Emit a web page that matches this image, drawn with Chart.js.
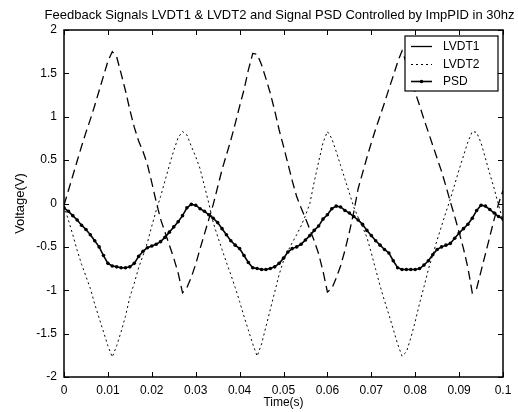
<!DOCTYPE html>
<html>
<head>
<meta charset="utf-8">
<title>Feedback Signals LVDT1 &amp; LVDT2 and Signal PSD</title>
<script src="https://cdn.jsdelivr.net/npm/chart.js@4.4.1/dist/chart.umd.min.js"></script>
<style>
  html, body { margin: 0; padding: 0; background: #fff; }
  #wrap { width: 518px; height: 412px; }
</style>
</head>
<body>
<div id="wrap"><canvas id="signalChart" width="518" height="412"></canvas></div>
<script>
// sample times (s), 1 ms apart
const timeSec = [
  0, 0.001, 0.002, 0.003, 0.004, 0.005, 0.006, 0.007, 0.008, 0.009,
  0.010, 0.011, 0.012, 0.013, 0.014, 0.015, 0.016, 0.017, 0.018, 0.019,
  0.020, 0.021, 0.022, 0.023, 0.024, 0.025, 0.026, 0.027, 0.028, 0.029,
  0.030, 0.031, 0.032, 0.033, 0.034, 0.035, 0.036, 0.037, 0.038, 0.039,
  0.040, 0.041, 0.042, 0.043, 0.044, 0.045, 0.046, 0.047, 0.048, 0.049,
  0.050, 0.051, 0.052, 0.053, 0.054, 0.055, 0.056, 0.057, 0.058, 0.059,
  0.060, 0.061, 0.062, 0.063, 0.064, 0.065, 0.066, 0.067, 0.068, 0.069,
  0.070, 0.071, 0.072, 0.073, 0.074, 0.075, 0.076, 0.077, 0.078, 0.079,
  0.080, 0.081, 0.082, 0.083, 0.084, 0.085, 0.086, 0.087, 0.088, 0.089,
  0.090, 0.091, 0.092, 0.093, 0.094, 0.095, 0.096, 0.097, 0.098, 0.099,
  0.100
];

// feedback voltages (V)
const lvdt1 = [
  -0.02, 0.15, 0.32, 0.49, 0.66, 0.82, 0.97, 1.13, 1.30, 1.47,
  1.64, 1.75, 1.69, 1.50, 1.30, 1.08, 0.88, 0.72, 0.60, 0.45,
  0.24, 0.02, -0.18, -0.33, -0.48, -0.63, -0.80, -1.03, -0.97, -0.85,
  -0.70, -0.52, -0.35, -0.18, -0.01, 0.19, 0.39, 0.56, 0.73, 0.92,
  1.12, 1.31, 1.54, 1.73, 1.72, 1.60, 1.44, 1.27, 1.07, 0.85,
  0.66, 0.46, 0.26, 0.08, -0.05, -0.17, -0.30, -0.43, -0.58, -0.78,
  -1.02, -0.98, -0.86, -0.72, -0.54, -0.33, -0.10, 0.17, 0.35, 0.53,
  0.70, 0.86, 1.01, 1.16, 1.32, 1.47, 1.63, 1.76, 1.62, 1.44,
  1.28, 1.13, 0.97, 0.82, 0.67, 0.52, 0.37, 0.20, 0.02, -0.15,
  -0.33, -0.52, -0.74, -1.03, -0.98, -0.78, -0.58, -0.38, -0.18, 0.00,
  0.15
];

const lvdt2 = [
  -0.03, -0.19, -0.36, -0.54, -0.70, -0.84, -0.98, -1.16, -1.32, -1.48,
  -1.64, -1.77, -1.64, -1.48, -1.30, -1.08, -0.92, -0.74, -0.60, -0.45,
  -0.26, -0.08, 0.08, 0.26, 0.44, 0.61, 0.76, 0.83, 0.79, 0.66,
  0.54, 0.40, 0.20, 0.00, -0.22, -0.38, -0.53, -0.68, -0.82, -0.97,
  -1.13, -1.30, -1.46, -1.62, -1.76, -1.62, -1.42, -1.22, -1.02, -0.82,
  -0.66, -0.55, -0.45, -0.36, -0.26, -0.14, 0.00, 0.25, 0.48, 0.70,
  0.83, 0.75, 0.60, 0.44, 0.28, 0.12, -0.04, -0.16, -0.27, -0.39,
  -0.57, -0.76, -0.95, -1.12, -1.28, -1.45, -1.62, -1.76, -1.71, -1.55,
  -1.36, -1.15, -0.96, -0.76, -0.59, -0.42, -0.26, -0.10, 0.05, 0.22,
  0.39, 0.55, 0.71, 0.83, 0.82, 0.70, 0.52, 0.34, 0.17, -0.02,
  -0.20
];

const psd = [
  -0.05, -0.09, -0.14, -0.19, -0.25, -0.30, -0.36, -0.43, -0.50, -0.60,
  -0.69, -0.72, -0.73, -0.74, -0.74, -0.73, -0.69, -0.61, -0.55, -0.51,
  -0.49, -0.47, -0.44, -0.39, -0.33, -0.27, -0.21, -0.14, -0.05, -0.01,
  -0.02, -0.06, -0.09, -0.13, -0.17, -0.22, -0.29, -0.36, -0.43, -0.48,
  -0.52, -0.60, -0.68, -0.74, -0.75, -0.76, -0.76, -0.75, -0.73, -0.69,
  -0.63, -0.56, -0.52, -0.50, -0.47, -0.42, -0.37, -0.31, -0.26, -0.18,
  -0.13, -0.06, -0.03, -0.04, -0.08, -0.11, -0.15, -0.19, -0.24, -0.31,
  -0.37, -0.43, -0.48, -0.53, -0.57, -0.66, -0.74, -0.76, -0.76, -0.76,
  -0.76, -0.75, -0.71, -0.66, -0.59, -0.53, -0.50, -0.48, -0.46, -0.40,
  -0.34, -0.29, -0.24, -0.17, -0.08, -0.02, -0.03, -0.07, -0.11, -0.15,
  -0.18
];

const xTickValues = [0, 0.01, 0.02, 0.03, 0.04, 0.05, 0.06, 0.07, 0.08, 0.09, 0.1];
const yTickValues = [-2, -1.5, -1, -0.5, 0, 0.5, 1, 1.5, 2];

const titleText = 'Feedback Signals LVDT1 & LVDT2 and Signal PSD Controlled by ImpPID in 30hz';
const fontFamily = "'Liberation Sans', Arial, Helvetica, sans-serif";

// title centred over the plot box
const plotTitle = {
  id: 'plotTitle',
  afterDraw(chart) {
    const { ctx, chartArea: a } = chart;
    ctx.save();
    ctx.font = '13px ' + fontFamily;
    ctx.fillStyle = '#000';
    ctx.textAlign = 'center';
    ctx.textBaseline = 'middle';
    ctx.fillText(titleText, (a.left + a.right) / 2 - 4, 15);
    ctx.restore();
  }
};

// box around the axes with inward tick marks on all four sides
const axesFrame = {
  id: 'axesFrame',
  afterDatasetsDraw(chart) {
    const { ctx, chartArea: a, scales } = chart;
    const len = 5;
    ctx.save();
    ctx.strokeStyle = '#000';
    ctx.lineWidth = 1;
    ctx.beginPath();
    scales.x.ticks.forEach(t => {
      const px = Math.round(scales.x.getPixelForValue(t.value)) + 0.5;
      ctx.moveTo(px, a.bottom); ctx.lineTo(px, a.bottom - len);
      ctx.moveTo(px, a.top); ctx.lineTo(px, a.top + len);
    });
    scales.y.ticks.forEach(t => {
      const py = Math.round(scales.y.getPixelForValue(t.value)) + 0.5;
      ctx.moveTo(a.left, py); ctx.lineTo(a.left + len, py);
      ctx.moveTo(a.right, py); ctx.lineTo(a.right - len, py);
    });
    ctx.stroke();
    ctx.lineWidth = 1.5;
    ctx.strokeRect(a.left, a.top, a.right - a.left, a.bottom - a.top);
    ctx.restore();
  }
};

// boxed legend in the upper right corner of the plot
const boxLegend = {
  id: 'boxLegend',
  afterDraw(chart) {
    const { ctx, chartArea: a } = chart;
    const w = 93, h = 55;
    const x = a.right - 5 - w, y = a.top + 6;
    ctx.save();
    ctx.fillStyle = '#fff';
    ctx.fillRect(x, y, w, h);
    ctx.strokeStyle = '#000';
    ctx.lineWidth = 1.2;
    ctx.strokeRect(x, y, w, h);
    ctx.font = '12px ' + fontFamily;
    ctx.textBaseline = 'middle';
    chart.data.datasets.forEach((ds, i) => {
      const rowY = Math.round(y + 10 + i * 17.5) + 0.5;
      ctx.beginPath();
      ctx.setLineDash(ds.legendDash || ds.borderDash || []);
      ctx.lineWidth = ds.borderWidth;
      ctx.strokeStyle = ds.borderColor;
      ctx.moveTo(x + 6, rowY);
      ctx.lineTo(x + 27, rowY);
      ctx.stroke();
      ctx.setLineDash([]);
      if (ds.pointRadius > 0) {
        ctx.beginPath();
        ctx.fillStyle = ds.pointBackgroundColor;
        ctx.arc(x + 16.5, rowY, ds.pointRadius, 0, Math.PI * 2);
        ctx.fill();
      }
      ctx.fillStyle = '#000';
      ctx.fillText(ds.label, x + 38, rowY);
    });
    ctx.restore();
  }
};

const tickFont = { family: fontFamily, size: 12 };

new Chart(document.getElementById('signalChart'), {
  type: 'line',
  data: {
    labels: timeSec,
    datasets: [
      {
        label: 'LVDT1',
        data: lvdt1,
        borderColor: '#000',
        borderWidth: 1.3,
        borderDash: [9, 5],
        legendDash: [],
        pointRadius: 0,
        order: 2
      },
      {
        label: 'LVDT2',
        data: lvdt2,
        borderColor: '#000',
        borderWidth: 1,
        borderDash: [2, 3],
        pointRadius: 0,
        order: 1
      },
      {
        label: 'PSD',
        data: psd,
        borderColor: '#000',
        borderWidth: 1.6,
        pointRadius: 1.8,
        pointBackgroundColor: '#000',
        pointBorderWidth: 0,
        order: 0
      }
    ]
  },
  options: {
    responsive: false,
    animation: false,
    events: [],
    layout: { padding: { top: 30, right: 15, left: 0, bottom: 0 } },
    elements: { line: { tension: 0 } },
    plugins: {
      legend: { display: false },
      tooltip: { enabled: false }
    },
    scales: {
      x: {
        type: 'linear',
        min: 0,
        max: 0.1,
        afterBuildTicks: s => { s.ticks = xTickValues.map(v => ({ value: v })); },
        afterFit: s => { s.height = 35; },
        grid: { display: false, drawTicks: false },
        border: { display: false },
        ticks: {
          color: '#000',
          font: tickFont,
          padding: 6,
          maxRotation: 0,
          autoSkip: false,
          callback: v => String(v)
        },
        title: {
          display: true,
          text: 'Time(s)',
          color: '#000',
          font: { family: fontFamily, size: 12 },
          padding: { top: 0, bottom: 2 }
        }
      },
      y: {
        type: 'linear',
        min: -2,
        max: 2,
        afterBuildTicks: s => { s.ticks = yTickValues.map(v => ({ value: v })); },
        afterFit: s => { s.width = 64; },
        grid: { display: false, drawTicks: false },
        border: { display: false },
        ticks: {
          color: '#000',
          font: tickFont,
          padding: 7,
          autoSkip: false,
          callback: v => String(v)
        },
        title: {
          display: true,
          text: 'Voltage(V)',
          color: '#000',
          font: { family: fontFamily, size: 13 },
          padding: { top: 13, bottom: 0 }
        }
      }
    }
  },
  plugins: [axesFrame, boxLegend, plotTitle]
});
</script>
</body>
</html>
